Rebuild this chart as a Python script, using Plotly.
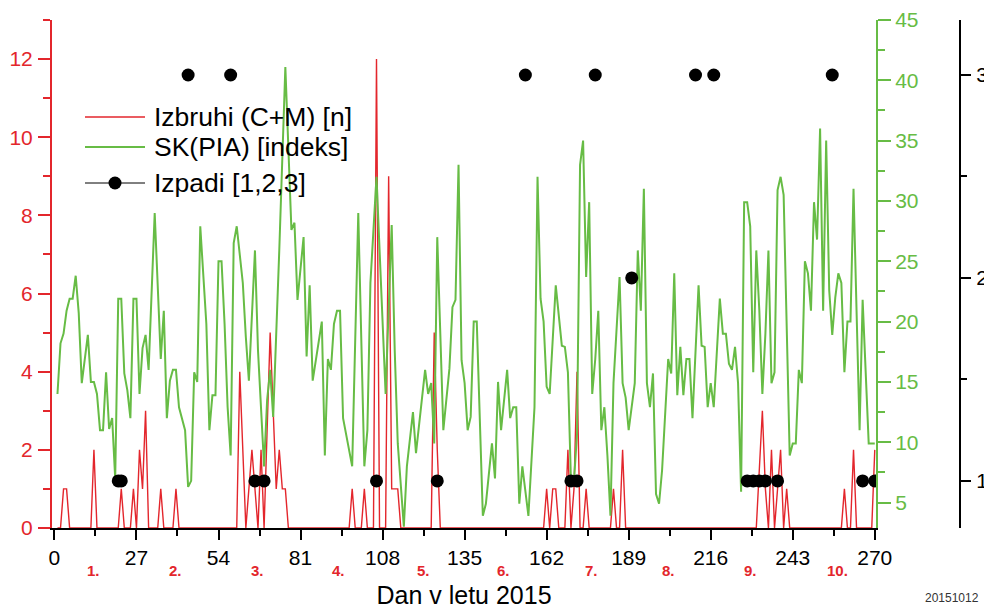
import plotly.graph_objects as go

# ---------------- data ----------------
flare_days = [1, 2, 3, 4, 5, 12, 13, 14, 21, 22, 23, 25, 26, 27, 28, 29, 30, 31,
              34, 35, 36, 39, 40, 41, 60, 61, 63, 65, 67, 68, 69, 71, 72, 73, 74,
              75, 76, 77, 97, 98, 99, 101, 102, 103, 105, 106, 107, 109, 110, 111,
              113, 114, 124, 125, 126, 127, 161, 162, 163, 164, 165, 166, 168, 169,
              170, 171, 172, 173, 174, 175, 176, 183, 184, 185, 186, 187, 188, 231,
              233, 234, 235, 236, 237, 239, 240, 241, 242, 259, 260, 261, 262, 263,
              264, 269, 270]
flare_counts = [0, 0, 1, 1, 0, 0, 2, 0, 0, 1, 0, 0, 1, 0, 2, 1, 3, 0,
                0, 1, 0, 0, 1, 0, 0, 4, 0, 2, 0, 2, 0, 5, 3, 1, 2,
                1, 1, 0, 0, 1, 0, 0, 1, 0, 0, 12, 0, 0, 9, 1,
                1, 0, 0, 5, 2, 0, 0, 1, 0, 1, 1, 0, 0, 2,
                0, 1, 4, 0, 0, 1, 0, 0, 1, 0, 0, 2, 0, 0,
                3, 1, 0, 2, 0, 2, 0, 1, 0, 0, 1, 0, 0, 2,
                0, 0, 2]

sk_days = [1, 2, 3, 4, 5, 6, 7, 8, 9, 11, 12, 13, 14, 15, 16, 17, 18, 19, 20,
           21, 22, 23, 24, 25, 26, 27, 28, 29, 30, 31, 33, 35, 36, 37, 38, 39,
           40, 41, 43, 44, 45, 46, 47, 48, 50, 51, 52, 53, 54, 55, 56, 57, 58,
           59, 60, 62, 63, 64, 66, 67, 69, 70, 71, 72, 74, 76, 78, 79, 80, 82,
           83, 84, 85, 87, 88, 89, 90, 91, 92, 93, 94, 95, 96, 98, 100, 102,
           103, 104, 106, 109, 111, 112, 113, 115, 116, 118, 119, 120, 122, 123,
           124, 125, 126, 128, 130, 131, 132, 133, 134, 135, 136, 137, 138, 139,
           141, 142, 144, 145, 146, 147, 149, 150, 151, 152, 153, 154, 156, 158,
           159, 160, 161, 162, 163, 165, 167, 168, 169, 170, 171, 172, 173, 174,
           175, 176, 177, 178, 179, 180, 181, 182, 183, 184, 186, 187, 188, 189,
           190, 191, 192, 193, 194, 195, 196, 197, 198, 199, 200, 202, 203, 204,
           205, 206, 207, 208, 209, 210, 212, 213, 214, 215, 216, 217, 219, 220,
           221, 222, 223, 224, 225, 226, 227, 228, 229, 230, 231, 232, 233, 234,
           235, 236, 237, 238, 239, 240, 242, 243, 244, 245, 246, 247, 248, 249,
           250, 251, 252, 253, 254, 255, 256, 257, 258, 259, 260, 261, 262, 263,
           264, 265, 266, 267, 268, 270]
sk_values = [14.0, 18.2, 19.0, 20.9, 21.9, 21.9, 23.8, 20.7, 14.9, 18.9, 15.0, 15.0,
             14.0, 11.0, 11.0, 15.8, 11.1, 12.0, 7.0,
             21.9, 21.9, 15.7, 14.3, 12.0, 21.9, 21.9, 14.0, 17.8, 18.9, 16.0, 29.0,
             16.9, 20.9, 12.0, 15.1, 16.0,
             16.0, 12.9, 11.0, 6.3, 6.8, 15.8, 15.0, 27.9, 19.8, 11.0, 13.9, 13.9,
             25.0, 25.0, 19.8, 12.9, 8.9,
             26.5, 27.9, 23.2, 18.7, 15.1, 25.9, 17.6, 8.0, 13.5, 16.0, 12.1, 25.9,
             41.1, 27.6, 28.2, 21.8, 27.0,
             17.1, 23.0, 15.1, 18.2, 20.0, 8.9, 16.9, 16.0, 19.8, 20.9, 20.9, 12.0,
             10.7, 8.0, 29.0, 8.0,
             11.0, 23.2, 32.0, 14.0, 28.0, 17.6, 9.9, 3.0, 8.0, 12.5, 9.1, 11.6, 16.0,
             14.0,
             14.9, 9.9, 27.0, 11.0, 16.1, 21.2, 21.8, 33.0, 16.8, 14.9, 11.0, 12.1,
             20.0, 20.0,
             3.9, 4.9, 9.9, 7.0, 15.0, 11.0, 16.0, 12.0, 12.9, 12.9, 4.9, 8.0, 3.9,
             12.9,
             32.0, 21.9, 20.0, 14.6, 14.0, 23.0, 18.0, 17.9, 15.8, 6.8, 6.8, 10.7,
             33.0, 35.0,
             23.7, 29.9, 14.0, 16.9, 20.9, 11.0, 12.9, 8.9, 3.9, 14.9, 23.7, 14.9,
             13.7, 11.0,
             12.8, 14.9, 25.9, 20.9, 31.0, 14.9, 12.9, 15.7, 5.7, 4.9, 7.7, 16.9,
             15.7, 24.0,
             13.9, 17.9, 13.9, 16.9, 16.9, 12.0, 23.0, 18.0, 17.9, 12.9, 14.9, 12.9,
             21.9, 19.0,
             19.0, 16.5, 16.0, 17.9, 14.9, 5.9, 29.9, 29.9, 27.9, 15.8, 25.9, 20.9,
             14.0, 19.0,
             25.9, 14.9, 15.8, 30.9, 32.0, 30.5, 8.9, 9.9, 9.9, 16.0, 14.9, 25.0,
             24.0, 20.9,
             29.9, 26.8, 36.0, 20.9, 35.0, 22.6, 18.9, 22.0, 24.0, 23.2, 15.8, 20.0,
             20.0, 31.0,
             20.9, 11.0, 21.8, 16.0, 9.9, 9.9]

outage_days = [21, 22, 44, 58, 66, 69, 106, 126, 155, 170, 172, 178, 190, 211,
               217, 228, 230, 232, 234, 238, 256, 266, 270]
outage_levels = [1, 1, 3, 3, 1, 1, 1, 1, 3, 1, 1, 3, 2, 3,
                 3, 1, 1, 1, 1, 1, 3, 1, 1]

x_tick_vals = [0, 27, 54, 81, 108, 135, 162, 189, 216, 243, 270]
month_labels = ["1.", "2.", "3.", "4.", "5.", "6.", "7.", "8.", "9.", "10."]
month_label_x = [13.0, 39.7, 66.8, 93.4, 121.6, 147.7, 176.9, 202.0, 229.1, 257.8]

series_names = ["Izbruhi (C+M) [n]", "SK(PIA) [indeks]", "Izpadi [1,2,3]"]

# ---------------- styling ----------------
RED = "#e3262c"
GREEN = "#67bc45"
BLACK = "#000000"
FONT = "Arial, Liberation Sans, sans-serif"

# the page body has an 8px margin, so the figure is drawn 8px smaller
SCREEN_W, SCREEN_H = 992, 609
BODY = 8
W, H = SCREEN_W - BODY, SCREEN_H - BODY
# plot area in screen pixels: x 52..972 (paper), y 20..528
PL, PR, PT, PB = 52, 972, 20, 528
ML, MT = PL - BODY, PT - BODY
MR, MB = SCREEN_W - PR, SCREEN_H - PB


def px(x):
    return (x - PL) / (PR - PL)


def py(y):
    return (PB - y) / (PB - PT)


fig = go.Figure()
fig.add_trace(go.Scatter(x=flare_days, y=flare_counts, mode="lines",
                         line=dict(color=RED, width=1.4), name=series_names[0],
                         yaxis="y", showlegend=False))
fig.add_trace(go.Scatter(x=sk_days, y=sk_values, mode="lines",
                         line=dict(color=GREEN, width=2), name=series_names[1],
                         yaxis="y2", showlegend=False))
fig.add_trace(go.Scatter(x=outage_days, y=outage_levels, mode="markers",
                         marker=dict(color=BLACK, size=13), name=series_names[2],
                         yaxis="y3", showlegend=False))

x_end = px(876)

fig.update_layout(
    width=W, height=H,
    margin=dict(l=ML, r=MR, t=MT, b=MB, autoexpand=False),
    paper_bgcolor="white", plot_bgcolor="white",
    font=dict(family=FONT, size=21, color=BLACK),
    showlegend=False,
    xaxis=dict(
        domain=[0, x_end], range=[-0.8, 270.4], automargin=False,
        tickvals=x_tick_vals, ticks="outside", ticklen=10, tickwidth=2,
        tickcolor=BLACK, showline=True, linecolor=BLACK, linewidth=2,
        showgrid=False, zeroline=False,
        tickfont=dict(size=21, color=BLACK),
        minor=dict(tick0=0, dtick=13.5, ticks="outside", ticklen=6,
                   tickwidth=2, tickcolor=BLACK, showgrid=False),
        title=dict(text="Dan v letu 2015", font=dict(size=25, color=BLACK),
                   standoff=22),
    ),
    yaxis=dict(
        range=[0, 13], tick0=0, dtick=2, ticks="outside", ticklen=12,
        automargin=False,
        tickwidth=2, tickcolor=RED, showline=True, linecolor=RED, linewidth=2,
        showgrid=False, zeroline=False, tickfont=dict(size=21, color=RED),
        minor=dict(tick0=0, dtick=1, ticks="outside", ticklen=7, tickwidth=2,
                   tickcolor=RED, showgrid=False),
        ticklabelstandoff=1,
    ),
    yaxis2=dict(
        overlaying="y", side="right", anchor="x", automargin=False,
        range=[2.89, 45], tick0=5, dtick=5, ticks="outside", ticklen=13,
        tickwidth=2, tickcolor=GREEN, showline=True, linecolor=GREEN,
        linewidth=2, showgrid=False, zeroline=False,
        tickfont=dict(size=21, color=GREEN),
        minor=dict(tick0=0, dtick=2.5, ticks="outside", ticklen=7, tickwidth=2,
                   tickcolor=GREEN, showgrid=False),
        ticklabelstandoff=0,
    ),
    yaxis3=dict(
        overlaying="y", side="right", anchor="free", position=px(960),
        automargin=False,
        range=[0.768, 3.271], tickvals=[1, 2, 3], ticks="outside", ticklen=10,
        tickwidth=2, tickcolor=BLACK, showline=True, linecolor=BLACK,
        linewidth=2, showgrid=False, zeroline=False,
        tickfont=dict(size=21, color=BLACK),
        minor=dict(tick0=0, dtick=0.5, ticks="outside", ticklen=6, tickwidth=2,
                   tickcolor=BLACK, showgrid=False),
        ticklabelstandoff=1,
    ),
)

# month labels under the x axis
for lab, xd in zip(month_labels, month_label_x):
    fig.add_annotation(x=xd, y=py(570), xref="x", yref="paper", text=f"<b>{lab}</b>",
                       showarrow=False, font=dict(size=15, color=RED, family=FONT),
                       xanchor="center", yanchor="middle")

fig.add_annotation(x=px(952), y=py(598), xref="paper", yref="paper", text="20151012",
                   showarrow=False, font=dict(size=12, color="#333333", family=FONT),
                   xanchor="center", yanchor="middle")

# hand-drawn legend (long line samples as in the original)
legend_rows = [117, 147, 183]
legend_colors = [RED, GREEN, BLACK]
legend_widths = [1.4, 2, 1]
for name, row, col, lw in zip(series_names, legend_rows, legend_colors, legend_widths):
    fig.add_shape(type="line", xref="paper", yref="paper",
                  x0=px(85), x1=px(145), y0=py(row), y1=py(row),
                  line=dict(color=col, width=lw))
    fig.add_annotation(x=px(152), y=py(row), xref="paper", yref="paper", text=name,
                       showarrow=False, xanchor="left", yanchor="middle",
                       font=dict(size=26.5, color=BLACK, family=FONT))
r = 6.5
fig.add_shape(type="circle", xref="paper", yref="paper",
              x0=px(115 - r), x1=px(115 + r), y0=py(183 + r), y1=py(183 - r),
              fillcolor=BLACK, line=dict(color=BLACK, width=0))

fig.write_html("out.html")
